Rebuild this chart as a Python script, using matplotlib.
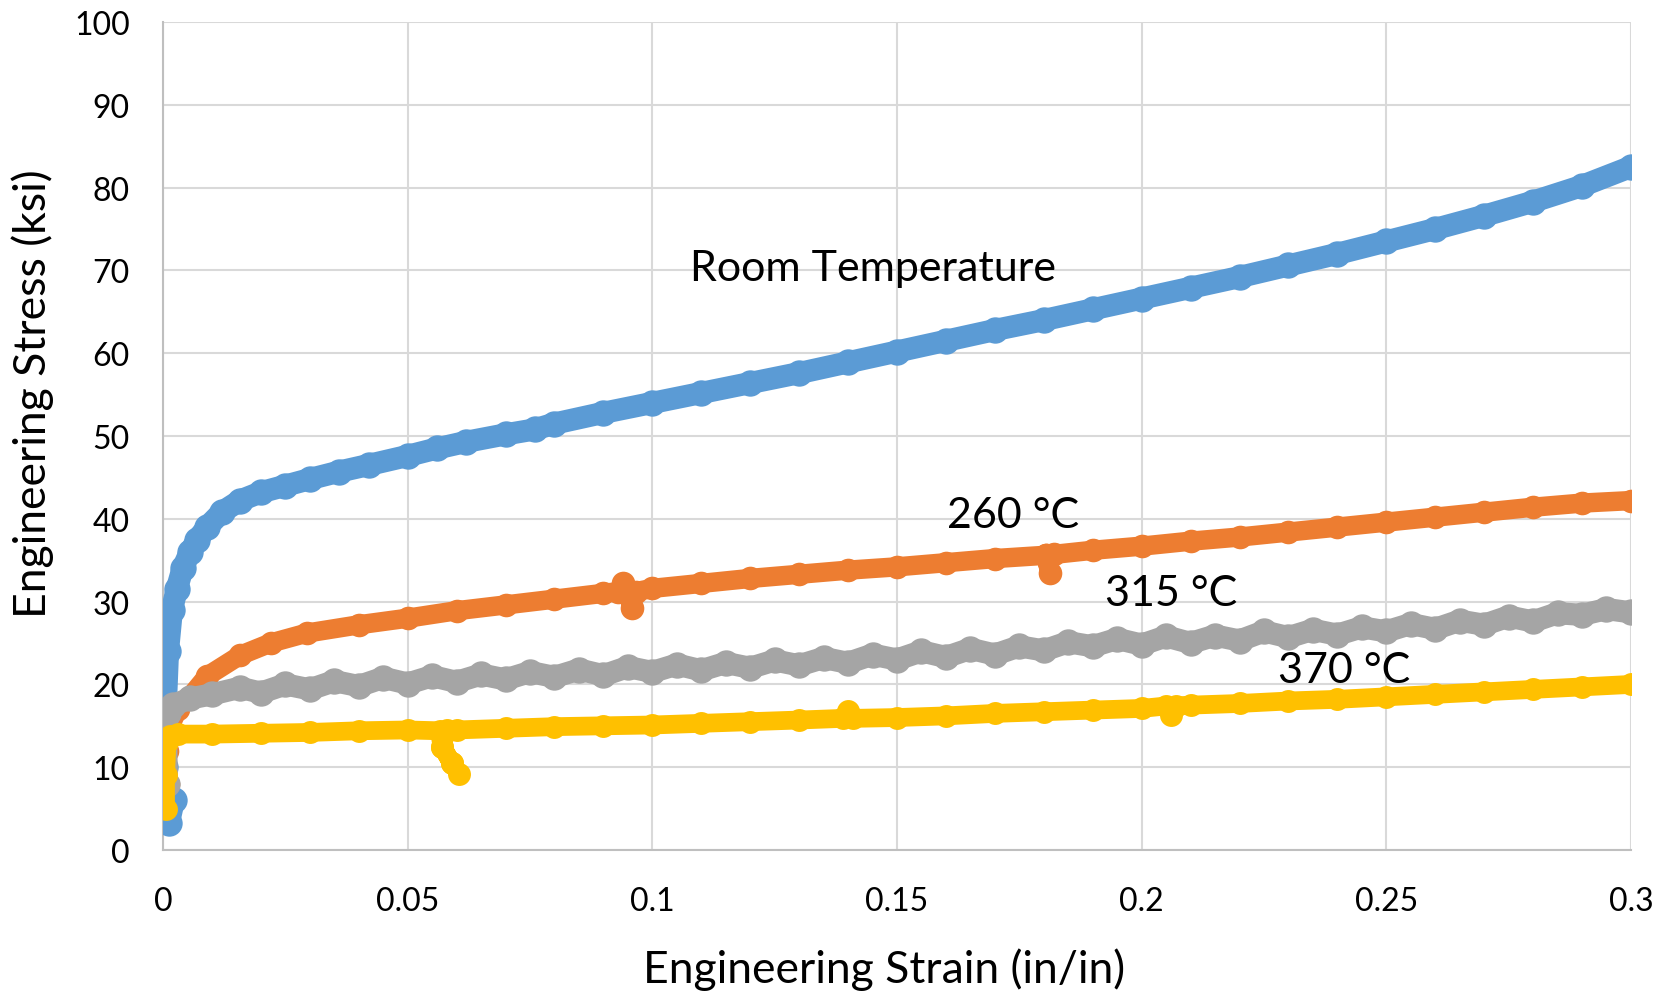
import matplotlib
matplotlib.use("Agg")
import matplotlib.pyplot as plt

plt.rcParams['font.family'] = ['Lato', 'DejaVu Sans']

# room temperature (strain in/in, stress ksi)
rt_strain = [0.0022, 0.0012, 0.0005, 0.0004, 0.0006, 0.0010, 0.0018, 0.0028, 0.0040, 0.0055,
             0.0070, 0.0090, 0.0120, 0.0157, 0.0200, 0.0250, 0.0300, 0.0360, 0.0420, 0.0500,
             0.0560, 0.0620, 0.0700, 0.0760, 0.0800, 0.0900, 0.1000, 0.1100, 0.1200, 0.1300,
             0.1400, 0.1500, 0.1600, 0.1700, 0.1800, 0.1900, 0.2000, 0.2100, 0.2200, 0.2300,
             0.2400, 0.2500, 0.2600, 0.2700, 0.2800, 0.2900, 0.3000]
rt_stress = [6.0, 3.3, 3.5, 10.0, 18.0, 24.0, 29.0, 31.5, 34.0, 36.0,
             37.5, 39.0, 40.8, 42.2, 43.2, 44.0, 44.8, 45.7, 46.5, 47.6,
             48.5, 49.3, 50.2, 50.8, 51.5, 52.8, 54.0, 55.2, 56.4, 57.6,
             58.9, 60.2, 61.5, 62.8, 64.0, 65.3, 66.6, 67.9, 69.2, 70.6,
             72.0, 73.5, 75.0, 76.6, 78.3, 80.2, 82.5]

# 260 C
o_strain = [0.0010, 0.0008, 0.0015, 0.0030, 0.0055, 0.0090, 0.0157, 0.0220, 0.0294, 0.0400,
            0.0500, 0.0600, 0.0700, 0.0800, 0.0900, 0.0930, 0.0940, 0.0950, 0.0958, 0.0950,
            0.0966, 0.1000, 0.1100, 0.1200, 0.1300, 0.1400, 0.1500, 0.1600, 0.1700, 0.1805,
            0.1812, 0.1805, 0.1820, 0.1900, 0.2000, 0.2100, 0.2200, 0.2300, 0.2400, 0.2500,
            0.2600, 0.2700, 0.2800, 0.2900, 0.3000]
o_stress = [8.0, 12.0, 15.0, 17.0, 18.5, 21.0, 23.5, 25.0, 26.2, 27.2,
            28.0, 28.9, 29.6, 30.3, 31.0, 31.2, 32.2, 31.3, 29.2, 31.3,
            31.2, 31.6, 32.2, 32.8, 33.3, 33.8, 34.2, 34.7, 35.2, 35.6,
            33.5, 35.6, 35.7, 36.2, 36.7, 37.3, 37.8, 38.4, 39.0, 39.6,
            40.2, 40.8, 41.4, 41.9, 42.2]

# 315 C
g_strain = [0.0008, 0.0006, 0.0010, 0.0020, 0.0055, 0.0100, 0.0157, 0.0200, 0.0250, 0.0300,
            0.0350, 0.0400, 0.0450, 0.0500, 0.0550, 0.0600, 0.0650, 0.0700, 0.0750, 0.0800,
            0.0850, 0.0900, 0.0950, 0.1000, 0.1050, 0.1100, 0.1150, 0.1200, 0.1250, 0.1300,
            0.1350, 0.1400, 0.1450, 0.1500, 0.1550, 0.1600, 0.1650, 0.1700, 0.1750, 0.1800,
            0.1850, 0.1900, 0.1950, 0.2000, 0.2050, 0.2100, 0.2150, 0.2200, 0.2250, 0.2300,
            0.2350, 0.2400, 0.2450, 0.2500, 0.2550, 0.2600, 0.2650, 0.2700, 0.2750, 0.2800,
            0.2850, 0.2900, 0.2950, 0.3000]
g_stress = [8.0, 14.0, 16.5, 17.5, 18.3, 18.8, 19.6, 19.0, 20.0, 19.4,
            20.4, 19.8, 20.8, 20.1, 21.0, 20.3, 21.2, 20.6, 21.5, 20.9,
            21.8, 21.1, 22.1, 21.5, 22.4, 21.7, 22.6, 22.0, 22.9, 22.3,
            23.2, 22.6, 23.6, 23.0, 24.0, 23.3, 24.3, 23.6, 24.6, 24.1,
            25.1, 24.6, 25.5, 24.8, 25.8, 25.0, 25.9, 25.3, 26.4, 25.7,
            26.6, 26.0, 26.9, 26.4, 27.3, 26.7, 27.7, 27.2, 28.2, 27.6,
            28.6, 28.4, 29.1, 28.7]

# 370 C
y_strain = [0.0005, 0.0005, 0.0008, 0.0015, 0.0030, 0.0100, 0.0200, 0.0300, 0.0400, 0.0500,
            0.0565, 0.0570, 0.0590, 0.0605, 0.0590, 0.0570, 0.0580, 0.0600, 0.0700, 0.0800,
            0.0900, 0.1000, 0.1100, 0.1200, 0.1300, 0.1390, 0.1400, 0.1410, 0.1500, 0.1600,
            0.1700, 0.1800, 0.1900, 0.2000, 0.2050, 0.2060, 0.2070, 0.2100, 0.2200, 0.2300,
            0.2400, 0.2500, 0.2600, 0.2700, 0.2800, 0.2900, 0.3000]
y_stress = [5.0, 9.0, 13.0, 13.8, 14.0, 14.0, 14.1, 14.2, 14.4, 14.5,
            14.4, 12.5, 10.5, 9.2, 10.5, 12.5, 14.5, 14.5, 14.7, 14.9,
            15.0, 15.1, 15.3, 15.5, 15.7, 15.9, 16.8, 15.9, 16.0, 16.2,
            16.5, 16.7, 16.9, 17.1, 17.4, 16.3, 17.4, 17.5, 17.7, 18.0,
            18.2, 18.5, 18.8, 19.1, 19.4, 19.7, 20.0]

labels = ['Room Temperature', '260 °C', '315 °C', '370 °C']
label_pos = [(0.1077, 70.3), (0.1603, 40.4), (0.1925, 31.1), (0.2278, 21.7)]

xticks = [0, 0.05, 0.1, 0.15, 0.2, 0.25, 0.3]
xticklabels = ['0', '0.05', '0.1', '0.15', '0.2', '0.25', '0.3']
yticks = list(range(0, 101, 10))

fig = plt.figure(figsize=(16.69, 9.95), dpi=100)
ax = fig.add_axes([0.0977, 0.1447, 0.8795, 0.8322])

series = [
    (rt_strain, rt_stress, '#5B9BD5', 16),
    (o_strain, o_stress, '#ED7D31', 14),
    (g_strain, g_stress, '#A5A5A5', 16),
    (y_strain, y_stress, '#FFC000', 13.5),
]
for xs, ys, c, lw in series:
    ax.plot(xs, ys, color=c, lw=lw, solid_capstyle='round', solid_joinstyle='round',
            marker='o', ms=lw + 3, mec='none', zorder=3)

for txt, (x, y) in zip(labels, label_pos):
    ax.text(x, y, txt, fontsize=31, ha='left', va='center', color='black', zorder=4)

ax.set_xlim(0, 0.3)
ax.set_ylim(0, 100)
ax.set_xticks(xticks)
ax.set_xticklabels(xticklabels)
ax.set_yticks(yticks)
ax.tick_params(length=0, labelsize=23, pad=24)
ax.tick_params(axis='x', pad=26)
ax.grid(True, color='#d9d9d9', lw=1.5, zorder=0)
ax.set_axisbelow(True)
for s in ['top', 'right']:
    ax.spines[s].set_visible(False)
for s in ['left', 'bottom']:
    ax.spines[s].set_color('#bfbfbf')
    ax.spines[s].set_linewidth(1.5)

ax.set_xlabel('Engineering Strain (in/in)', fontsize=32, va='center')
ax.xaxis.set_label_coords(0.491, -0.1437)
ax.set_ylabel('Engineering Stress (ksi)', fontsize=32, va='center')
ax.yaxis.set_label_coords(-0.089, 0.552)

fig.savefig('out.png', dpi=100)
